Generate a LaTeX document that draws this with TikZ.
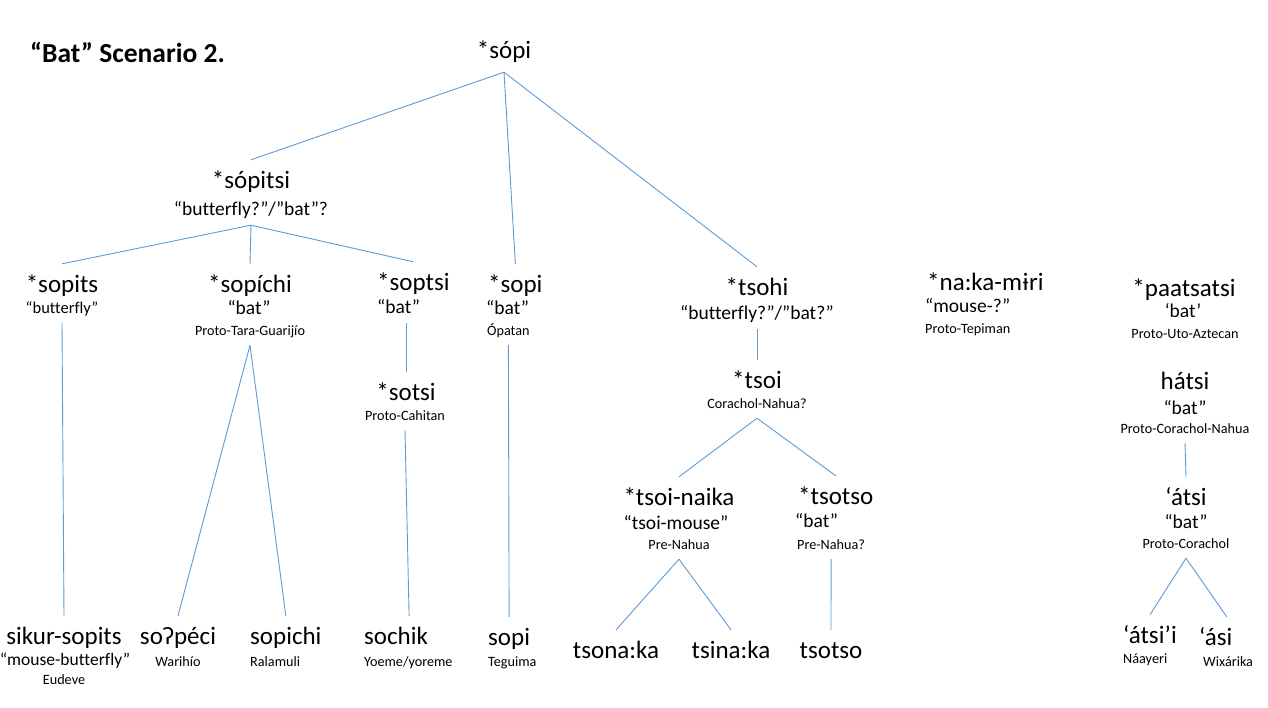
\documentclass[tikz,border=0pt]{standalone}
\usepackage{fontspec}
\setmainfont[Ligatures=NoCommon]{Carlito}
\definecolor{linkblue}{HTML}{5B9BD5}
\begin{document}
\begin{tikzpicture}[x=1pt,y=-1pt,
    word/.style={inner xsep=0pt,inner ysep=9pt,text height=19pt,text depth=5pt,font=\fontsize{25}{30}\selectfont},
    gloss/.style={inner xsep=0pt,inner ysep=6pt,text height=12pt,text depth=4pt,font=\fontsize{19.5}{23}\selectfont},
    smallgloss/.style={gloss,font=\fontsize{16.5}{20}\selectfont},
    lang/.style={inner xsep=0pt,inner ysep=6pt,text height=10pt,text depth=4pt,font=\fontsize{14.2}{17}\selectfont},
    branch/.style={draw=linkblue,line width=0.9pt}]
  \useasboundingbox (0,0) rectangle (1268,707);
  \path (30,62) node[anchor=base west,inner sep=0pt,font=\fontsize{27.5}{32}\selectfont\bfseries] (title) {“Bat” Scenario 2.};
  % top
  \path (504,58) node[word,anchor=base] (root) {*sópi};
  \path (251,188) node[word,anchor=base] (sopitsi) {*sópitsi};
  \path (251,215) node[gloss,anchor=base] (sopitsi-g) {“butterfly?”/”bat”?};
  % second row
  \path (62,292) node[word,anchor=base] (sopits) {*sopits};
  \path (62,313) node[smallgloss,anchor=base] (sopits-g) {“butterfly”};
  \path (250,292) node[word,anchor=base] (sopichi) {*sopíchi};
  \path (249,314) node[gloss,anchor=base] (sopichi-g) {“bat”};
  \path (250,335) node[lang,anchor=base] (sopichi-l) {Proto-Tara-Guarijío};
  \path (377,290) node[word,anchor=base west] (soptsi) {*soptsi};
  \path (377,313) node[gloss,anchor=base west] (soptsi-g) {“bat”};
  \path (406,400) node[word,anchor=base] (sotsi) {*sotsi};
  \path (405,420) node[lang,anchor=base] (sotsi-l) {Proto-Cahitan};
  \path (488,292) node[word,anchor=base west] (sopiO) {*sopi};
  \path (486,314) node[gloss,anchor=base west] (sopiO-g) {“bat”};
  \path (487,335) node[lang,anchor=base west] (sopiO-l) {Ópatan};
  \path (757,295) node[word,anchor=base] (tsohi) {*tsohi};
  \path (757,319) node[gloss,anchor=base] (tsohi-g) {“butterfly?”/”bat?”};
  \path (757,388) node[word,anchor=base] (tsoi) {*tsoi};
  \path (757,408) node[lang,anchor=base] (tsoi-l) {Corachol-Nahua?};
  \path (679,505) node[word,anchor=base] (tsoinaika) {*tsoi-naika};
  \path (676,529) node[gloss,anchor=base] (tsoinaika-g) {“tsoi-mouse”};
  \path (679,549) node[lang,anchor=base] (tsoinaika-l) {Pre-Nahua};
  \path (798,504) node[word,anchor=base west] (tsotso) {*tsotso};
  \path (795,527) node[gloss,anchor=base west] (tsotso-g) {“bat”};
  \path (797,549) node[lang,anchor=base west] (tsotso-l) {Pre-Nahua?};
  \path (927,290) node[word,anchor=base west] (nakamiri) {*na:ka-mɨri};
  \path (925,312) node[gloss,anchor=base west] (nakamiri-g) {“mouse-?”};
  \path (925,333) node[lang,anchor=base west] (nakamiri-l) {Proto-Tepiman};
  \path (1184,296) node[word,anchor=base] (paatsatsi) {*paatsatsi};
  \path (1183,317) node[gloss,anchor=base] (paatsatsi-g) {‘bat’};
  \path (1185,338) node[lang,anchor=base] (paatsatsi-l) {Proto-Uto-Aztecan};
  \path (1185,389) node[word,anchor=base] (hatsi) {hátsi};
  \path (1185,414) node[gloss,anchor=base] (hatsi-g) {“bat”};
  \path (1185,433) node[lang,anchor=base] (hatsi-l) {Proto-Corachol-Nahua};
  \path (1186,505) node[word,anchor=base] (atsi) {‘átsi};
  \path (1186,528) node[gloss,anchor=base] (atsi-g) {“bat”};
  \path (1186,548) node[lang,anchor=base] (atsi-l) {Proto-Corachol};
  % leaves
  \path (64,644) node[word,anchor=base] (sikur) {sikur-sopits};
  \path (65,665) node[gloss,anchor=base,font=\fontsize{17.5}{21}\selectfont] (sikur-g) {“mouse-butterfly”};
  \path (64,684) node[lang,anchor=base] (sikur-l) {Eudeve};
  \path (178,644) node[word,anchor=base] (sopeci) {soʔpéci};
  \path (178,666) node[lang,anchor=base] (sopeci-l) {Warihío};
  \path (250,644) node[word,anchor=base west] (sopichiL) {sopichi};
  \path (250,666) node[lang,anchor=base west] (sopichiL-l) {Ralamuli};
  \path (364,644) node[word,anchor=base west] (sochik) {sochik};
  \path (364,666) node[lang,anchor=base west] (sochik-l) {Yoeme/yoreme};
  \path (488,645) node[word,anchor=base west] (sopiT) {sopi};
  \path (488,666) node[lang,anchor=base west] (sopiT-l) {Teguima};
  \path (616,658) node[word,anchor=base] (tsonaka) {tsona:ka};
  \path (731,658) node[word,anchor=base] (tsinaka) {tsina:ka};
  \path (831,658) node[word,anchor=base] (tsotsoL) {tsotso};
  \path (1123,643) node[word,anchor=base west] (atsii) {‘átsi’i};
  \path (1123,663) node[lang,anchor=base west] (atsii-l) {Náayeri};
  \path (1199,645) node[word,anchor=base west] (asi) {‘ási};
  \path (1203,666) node[lang,anchor=base west] (asi-l) {Wixárika};
  % branches
  \draw[branch] (root.south) -- (sopitsi.north);
  \draw[branch] (root.south) -- (sopiO.north);
  \draw[branch] (root.south) -- (tsohi.north);
  \draw[branch] (sopitsi-g.south) -- (sopits.north);
  \draw[branch] (sopitsi-g.south) -- (sopichi.north);
  \draw[branch] (sopitsi-g.south) -- (soptsi.north);
  \draw[branch] (sopits-g.south) -- (sikur.north);
  \draw[branch] (sopichi-l.south) -- (sopeci.north);
  \draw[branch] (sopichi-l.south) -- (sopichiL.north);
  \draw[branch] (soptsi-g.south -| sotsi.north) -- (sotsi.north);
  \draw[branch] (sotsi-l.south) -- ([xshift=13pt]sochik.north);
  \draw[branch] (sopiO-l.south) -- (sopiT.north);
  \draw[branch] (tsohi-g.south) -- (tsoi.north);
  \draw[branch] (tsoi-l.south) -- (tsoinaika.north);
  \draw[branch] (tsoi-l.south) -- (tsotso.north);
  \draw[branch] (tsoinaika-l.south) -- (tsonaka.north);
  \draw[branch] (tsoinaika-l.south) -- (tsinaka.north);
  \draw[branch] (tsotso-l.south) -- (tsotsoL.north);
  \draw[branch] (hatsi-l.south) -- (atsi.north);
  \draw[branch] (atsi-l.south) -- (atsii.north);
  \draw[branch] (atsi-l.south) -- ([xshift=11pt]asi.north);
\end{tikzpicture}
\end{document}
